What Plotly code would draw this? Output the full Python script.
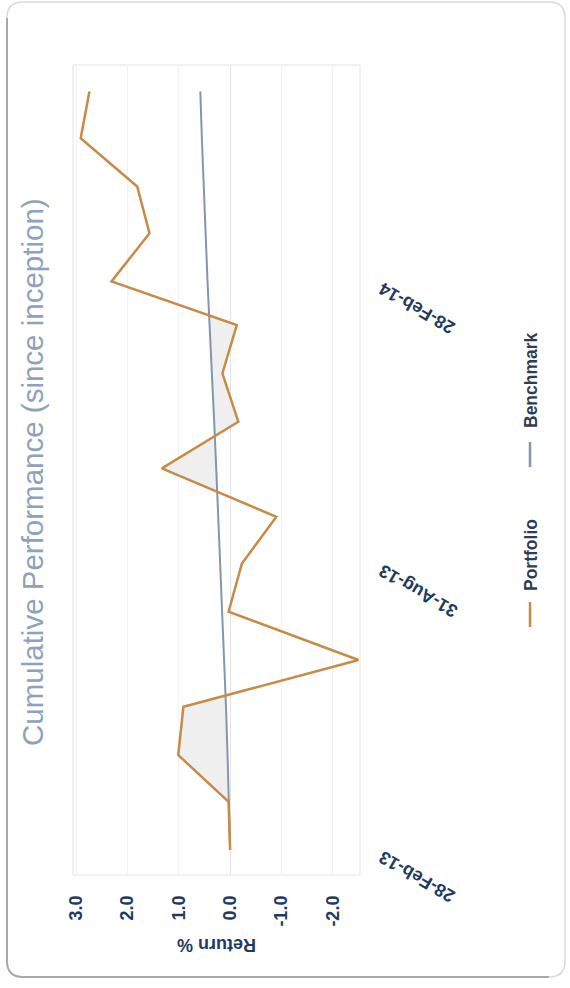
import plotly.graph_objects as go
import pandas as pd

# ---------------- data ----------------
dates = ["2013-02-28", "2013-03-31", "2013-04-30", "2013-05-31", "2013-06-30",
         "2013-07-31", "2013-08-31", "2013-09-30", "2013-10-31", "2013-11-30",
         "2013-12-31", "2014-01-31", "2014-02-28", "2014-03-31", "2014-04-30",
         "2014-05-31", "2014-06-30"]
portfolio = [0.00, 0.03, 1.01, 0.91, -2.50, 0.03, -0.23, -0.90, 1.33, -0.16,
             0.15, -0.13, 2.31, 1.57, 1.81, 2.91, 2.74]
benchmark = [0.00, 0.02, 0.05, 0.08, 0.12, 0.15, 0.19, 0.23, 0.27, 0.31,
             0.36, 0.40, 0.44, 0.48, 0.51, 0.55, 0.58]
return_ticks = [3.0, 2.0, 1.0, 0.0, -1.0, -2.0]
return_tick_labels = ["3.0", "2.0", "1.0", "0.0", "-1.0", "-2.0"]
date_ticks = ["2013-02-28", "2013-08-31", "2014-02-28"]
shade_ranges = [(1, 3), (8, 11)]   # index ranges of shaded portfolio points
series_names = ["Portfolio", "Benchmark"]
title_text = "Cumulative Performance (since inception)"
axis_title = "Return %"

# ---------------- styles ----------------
FONT = "Liberation Sans, Arial, sans-serif"
C_PORT = "#c98a45"
C_BENCH = "#8496ae"
C_FILL = "#efefef"
C_TICK = "#1f3b63"
C_TITLE = "#8ca2bd"

W, H = 570, 988
ML, MR, MT, MB = 73, 0, 65, 113
PW, PH = W - ML - MR, H - MT - MB
PLOT_RIGHT = 360


def px(xp):
    return (xp - ML) / PW


def py(yp):
    return (H - MB - yp) / PH


dts = pd.to_datetime(dates)


def crossing(i):
    """Point where portfolio crosses benchmark between index i and i+1."""
    d0 = portfolio[i] - benchmark[i]
    d1 = portfolio[i + 1] - benchmark[i + 1]
    t = 0.0 if d0 == d1 else d0 / (d0 - d1)
    t = min(max(t, 0.0), 1.0)
    d = dts[i] + (dts[i + 1] - dts[i]) * t
    v = portfolio[i] + (portfolio[i + 1] - portfolio[i]) * t
    return d, v


fig = go.Figure()

# shaded areas between portfolio and benchmark
for a, b in shade_ranges:
    s_d, s_v = crossing(a - 1)
    e_d, e_v = crossing(b)
    ys = [s_d] + list(dts[a:b + 1]) + [e_d] + list(dts[a:b + 1][::-1]) + [s_d]
    xs = [s_v] + portfolio[a:b + 1] + [e_v] + benchmark[a:b + 1][::-1] + [s_v]
    fig.add_trace(go.Scatter(x=xs, y=ys, mode="lines", fill="toself",
                             fillcolor=C_FILL, line=dict(width=0),
                             hoverinfo="skip", showlegend=False))

fig.add_trace(go.Scatter(x=benchmark, y=dts, mode="lines", name=series_names[1],
                         line=dict(color=C_BENCH, width=2), showlegend=False))
fig.add_trace(go.Scatter(x=portfolio, y=dts, mode="lines", name=series_names[0],
                         line=dict(color=C_PORT, width=2.5), showlegend=False))

fig.update_layout(
    template="none",
    width=W, height=H,
    margin=dict(l=ML, r=MR, t=MT, b=MB, pad=0),
    paper_bgcolor="white", plot_bgcolor="white",
    showlegend=False,
    font=dict(family=FONT, color=C_TICK, size=18),
    xaxis=dict(
        domain=[0, (PLOT_RIGHT - ML) / PW],
        range=[3.06, -2.53],
        tickvals=return_ticks, ticktext=return_tick_labels, tickangle=-90,
        showgrid=True, gridcolor="#f2f2f2", gridwidth=1,
        zeroline=True, zerolinecolor="#e3e3e3", zerolinewidth=1,
        showline=False, ticks="", ticklabelstandoff=16,
        tickfont=dict(family=FONT, size=18, color=C_TICK, weight="bold"),
    ),
    yaxis=dict(
        type="date",
        range=["2013-02-12", "2014-07-17"],
        side="left", anchor="free", position=px(379),
        tickvals=date_ticks, tickformat="%d-%b-%y", tickangle=210,
        ticklabelshift=11,
        showgrid=False, zeroline=False, showline=False, ticks="",
        tickfont=dict(family=FONT, size=18, color=C_TICK, weight="bold"),
    ),
)

# plot border
fig.add_shape(type="rect", xref="x domain", yref="y domain", x0=0, x1=1, y0=0, y1=1,
              line=dict(color="#e4e4e4", width=1), layer="below")

# outer rounded frame
fx0, fy0, fx1, fy1, r = 7, 2, 565, 977, 16
frame = (f"M {px(fx0 + r)},{py(fy0)} L {px(fx1 - r)},{py(fy0)} "
         f"Q {px(fx1)},{py(fy0)} {px(fx1)},{py(fy0 + r)} "
         f"L {px(fx1)},{py(fy1 - r)} Q {px(fx1)},{py(fy1)} {px(fx1 - r)},{py(fy1)} "
         f"L {px(fx0 + r)},{py(fy1)} Q {px(fx0)},{py(fy1)} {px(fx0)},{py(fy1 - r)} "
         f"L {px(fx0)},{py(fy0 + r)} Q {px(fx0)},{py(fy0)} {px(fx0 + r)},{py(fy0)} Z")
fig.add_shape(type="path", xref="paper", yref="paper", path=frame,
              line=dict(color="#d9d9d9", width=1.5))
shadow = (f"M {px(fx0)},{py(fy0 + r)} L {px(fx0)},{py(fy1 - r)} "
          f"Q {px(fx0)},{py(fy1)} {px(fx0 + r)},{py(fy1)} L {px(fx1 - r)},{py(fy1)}")
fig.add_shape(type="path", xref="paper", yref="paper", path=shadow,
              line=dict(color="#a9a9a9", width=2))

# title (rotated)
fig.add_annotation(text=title_text, xref="paper", yref="paper", x=px(32), y=py(472),
                   textangle=-90, showarrow=False, xanchor="center", yanchor="middle",
                   font=dict(family=FONT, size=29.5, color=C_TITLE))

# axis title (rotated 180)
fig.add_annotation(text=axis_title, xref="paper", yref="paper", x=px(217), y=py(945),
                   textangle=180, showarrow=False, xanchor="center", yanchor="middle",
                   font=dict(family=FONT, size=18, color=C_TICK, weight="bold"))

# legend (rotated)
legend_items = [(series_names[0], C_PORT, 627, 602, 555),
                (series_names[1], C_BENCH, 467, 442, 380)]
for name, col, l0, l1, tc in legend_items:
    fig.add_shape(type="line", xref="paper", yref="paper",
                  x0=px(530), x1=px(530), y0=py(l0), y1=py(l1),
                  line=dict(color=col, width=2.5))
    fig.add_annotation(text=name, xref="paper", yref="paper", x=px(531), y=py(tc),
                       textangle=-90, showarrow=False, xanchor="center", yanchor="middle",
                       font=dict(family=FONT, size=17.5, color="#2e3d55", weight="bold"))

fig.write_html("out.html")
